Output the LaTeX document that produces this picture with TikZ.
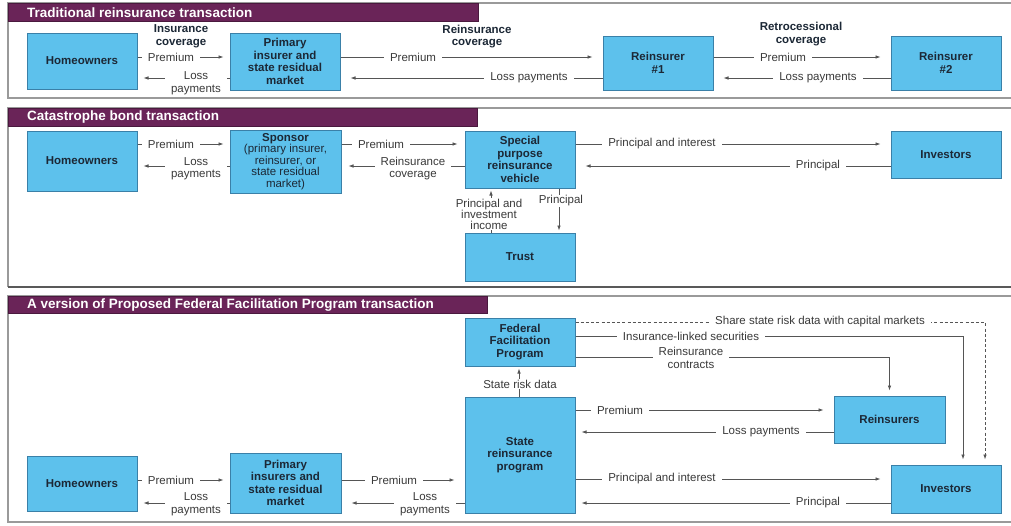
\documentclass[tikz,border=0pt]{standalone}
\usepackage{fontspec}
\setmainfont{Liberation Sans}
\usetikzlibrary{arrows.meta}
\definecolor{boxfill}{HTML}{5DC1EC}
\definecolor{boxline}{HTML}{3A80A8}
\definecolor{barpurple}{HTML}{6A2458}
\definecolor{lnc}{HTML}{555555}
\definecolor{txt}{HTML}{3A3A3A}
\definecolor{boxtxt}{HTML}{1C2836}
\definecolor{framec}{HTML}{9A9A9A}
\begin{document}
\begin{tikzpicture}[x=1pt,y=-1pt,
 box/.style={draw=boxline, line width=1pt, fill=boxfill, align=center,
   font=\fontsize{11.5}{12.5}\selectfont\bfseries, text=boxtxt, inner sep=0pt},
 lbl/.style={fill=white, inner xsep=6pt, inner ysep=0.5pt, align=center,
   font=\fontsize{11.5}{12.5}\selectfont, text=txt},
 blbl/.style={align=center, font=\fontsize{11.5}{12.5}\selectfont\bfseries, text=boxtxt, inner sep=0pt},
 arr/.style={draw=lnc, line width=0.8pt, -{Latex[length=5pt,width=3.6pt]}, shorten >=10pt},
 sarr/.style={arr, shorten >=6pt},
 varr/.style={arr, shorten >=2pt},
 dsh/.style={arr, dash pattern=on 3pt off 2.2pt, shorten >=5pt},
 bar/.style={fill=barpurple, draw=barpurple!70!black, line width=0.6pt},
 ttl/.style={anchor=west, text=white, font=\fontsize{13.5}{15}\selectfont\bfseries, inner sep=0pt},
 frm/.style={draw=framec, line width=1.6pt}]
\useasboundingbox[fill=white] (0,0) rectangle (1011,525);

% ---------- frames and title bars ----------
\draw[frm] (1011,3) -- (8,3) -- (8,98) -- (1011,98);
\draw[frm] (1011,108) -- (8,108) -- (8,287);
\draw[frm, draw=black!65] (8,287) -- (1011,287);
\draw[frm] (1011,296) -- (8,296) -- (8,522) -- (1011,522);
\filldraw[bar] (8,3) rectangle (478,21);
\filldraw[bar] (8,108) rectangle (477,126);
\filldraw[bar] (8,296) rectangle (487,313);
\node[ttl] (t1) at (27,12.5) {Traditional reinsurance transaction};
\node[ttl] (t2) at (27,117.5) {Catastrophe bond transaction};
\node[ttl] (t3) at (27,305) {A version of Proposed Federal Facilitation Program transaction};

% ---------- panel 1 ----------
\node[box, minimum width=110pt, minimum height=56pt] (h1) at (82,61) {Homeowners};
\node[box, minimum width=110pt, minimum height=57pt] (p1) at (285,61.5) {Primary\\insurer and\\state residual\\market};
\node[box, minimum width=110pt, minimum height=54pt] (r1) at (658,63) {Reinsurer\\\#1};
\node[box, minimum width=110pt, minimum height=54pt] (r2) at (946,63) {Reinsurer\\\#2};

\draw[sarr] (h1.east |- 0,57) -- (p1.west |- 0,57);
\draw[sarr] (p1.west |- 0,78) -- (h1.east |- 0,78);
\draw[arr] (p1.east |- 0,57) -- (r1.west |- 0,57);
\draw[arr] (r1.west |- 0,78) -- (p1.east |- 0,78);
\draw[arr] (r1.east |- 0,57) -- (r2.west |- 0,57);
\draw[arr] (r2.west |- 0,78) -- (r1.east |- 0,78);

\node[blbl] (c1) at (181,36.5) {Insurance\\coverage};
\node[blbl] (c2) at (477,36.5) {Reinsurance\\coverage};
\node[blbl] (c3) at (801,34) {Retrocessional\\coverage};
\node[lbl] (a1) at (171,57) {Premium};
\node[lbl] (a2) at (196,83) {Loss\\payments};
\node[lbl] (a3) at (413,57) {Premium};
\node[lbl] (a4) at (529,78) {Loss payments};
\node[lbl] (a5) at (783,57) {Premium};
\node[lbl] (a6) at (818,78) {Loss payments};

% ---------- panel 2 ----------
\node[box, minimum width=110pt, minimum height=60pt] (h2) at (82,161) {Homeowners};
\node[box, minimum width=111pt, minimum height=63pt, font=\fontsize{11.5}{11.5}\selectfont\bfseries] (sp) at (285.5,161.5)
  {Sponsor\\\mdseries(primary insurer,\\\mdseries reinsurer, or\\\mdseries state residual\\\mdseries market)};
\node[box, minimum width=110pt, minimum height=57pt] (spv) at (520,159.5) {Special\\purpose\\reinsurance\\vehicle};
\node[box, minimum width=110pt, minimum height=48pt] (tr) at (520,257) {Trust};
\node[box, minimum width=110pt, minimum height=47pt] (i2) at (946,154.5) {Investors};

\draw[sarr] (h2.east |- 0,144) -- (sp.west |- 0,144);
\draw[sarr] (sp.west |- 0,166) -- (h2.east |- 0,166);
\draw[arr, shorten >=7pt] (sp.east |- 0,144) -- (spv.west |- 0,144);
\draw[arr, shorten >=7pt] (spv.west |- 0,166) -- (sp.east |- 0,166);
\draw[arr] (spv.east |- 0,144) -- (i2.west |- 0,144);
\draw[arr] (i2.west |- 0,166) -- (spv.east |- 0,166);
\draw[varr] (491,0 |- tr.north) -- (491,0 |- spv.south);
\draw[varr] (559,0 |- spv.south) -- (559,0 |- tr.north);

\node[lbl] (b1) at (171,144) {Premium};
\node[lbl] (b2) at (196,168.5) {Loss\\payments};
\node[lbl] (b3) at (381,144) {Premium};
\node[lbl] (b4) at (413,168.5) {Reinsurance\\coverage};
\node[lbl] (b5) at (662,144) {Principal and interest};
\node[lbl] (b6) at (818,166) {Principal};
\node[lbl, inner xsep=1pt, font=\fontsize{11.5}{11}\selectfont] (b7) at (489,214) {Principal and\\investment\\income};
\node[lbl, inner xsep=1pt] (b8) at (561,201) {Principal};

% ---------- panel 3 ----------
\node[box, minimum width=110pt, minimum height=48pt] (ffp) at (520,342) {Federal\\Facilitation\\Program};
\node[box, minimum width=110pt, minimum height=116pt] (st) at (520,455) {State\\reinsurance\\program};
\node[box, minimum width=111pt, minimum height=47pt] (re) at (889.5,419.5) {Reinsurers};
\node[box, minimum width=110pt, minimum height=55pt] (h3) at (82,483.5) {Homeowners};
\node[box, minimum width=111pt, minimum height=60pt] (p3) at (285.5,483) {Primary\\insurers and\\state residual\\market};
\node[box, minimum width=110pt, minimum height=48pt] (i3) at (946,489) {Investors};

\draw[dsh] (ffp.east |- 0,322) -| (985,0 |- i3.north);
\draw[arr, shorten >=5pt] (ffp.east |- 0,336) -| (963,0 |- i3.north);
\draw[arr, shorten >=5pt] (ffp.east |- 0,357) -| (re.north);
\draw[varr] (519,0 |- st.north) -- (519,0 |- ffp.south);
\draw[sarr] (h3.east |- 0,480) -- (p3.west |- 0,480);
\draw[sarr] (p3.west |- 0,503) -- (h3.east |- 0,503);
\draw[arr] (p3.east |- 0,480) -- (st.west |- 0,480);
\draw[arr] (st.west |- 0,503) -- (p3.east |- 0,503);
\draw[arr] (st.east |- 0,410) -- (re.west |- 0,410);
\draw[arr, shorten >=6pt] (re.west |- 0,432) -- (st.east |- 0,432);
\draw[arr] (st.east |- 0,479) -- (i3.west |- 0,479);
\draw[arr, shorten >=6pt] (i3.west |- 0,503) -- (st.east |- 0,503);

\node[lbl] (d1) at (820,322) {Share state risk data with capital markets};
\node[lbl] (d2) at (691,336) {Insurance-linked securities};
\node[lbl] (d3) at (691,358) {Reinsurance\\contracts};
\node[lbl, inner xsep=1pt] (d4) at (520,384) {State risk data};
\node[lbl] (d5) at (171,480) {Premium};
\node[lbl] (d6) at (196,504) {Loss\\payments};
\node[lbl] (d7) at (394,480) {Premium};
\node[lbl] (d8) at (425,504) {Loss\\payments};
\node[lbl] (d9) at (620,410) {Premium};
\node[lbl] (d10) at (761,432) {Loss payments};
\node[lbl] (d11) at (662,479) {Principal and interest};
\node[lbl] (d12) at (818,503) {Principal};
\end{tikzpicture}
\end{document}
